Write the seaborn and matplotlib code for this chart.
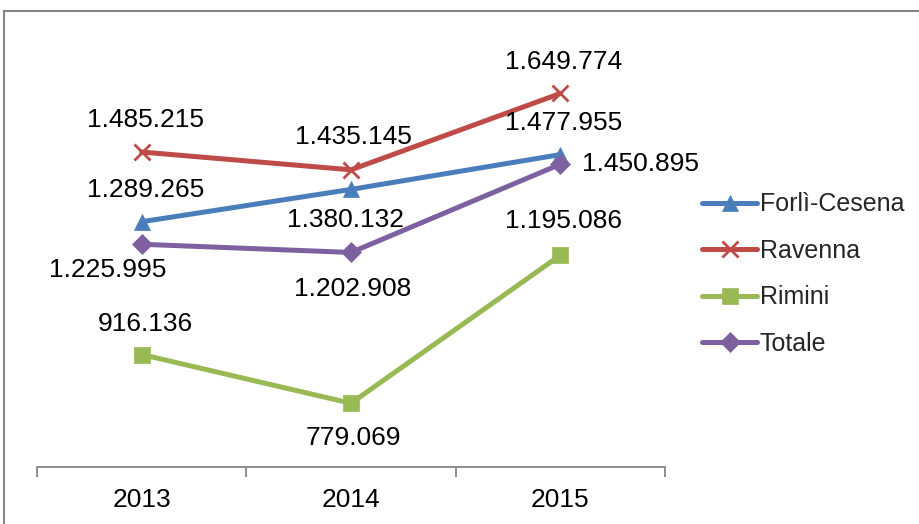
import matplotlib
matplotlib.use("Agg")
import matplotlib.pyplot as plt
import seaborn as sns
import pandas as pd
from matplotlib.patches import Rectangle

anni = ["2013", "2014", "2015"]
serie = ["Forlì-Cesena", "Ravenna", "Rimini", "Totale"]
forli_cesena = [1289265, 1380132, 1477955]
ravenna = [1485215, 1435145, 1649774]
rimini = [916136, 779069, 1195086]
totale = [1225995, 1202908, 1450895]

colori = ["#4A7EBB", "#BE4B48", "#98B954", "#7D60A0"]
marcatori = ["^", "x", "s", "D"]
dim_marcatori = [12, 11, 11, 10]

# label offsets (pixels) relative to each point
offset_etichette = {
    "Forlì-Cesena": [(4, 32), (-5, -31), (3, 32)],
    "Ravenna": [(4, 32), (2, 33), (3, 31)],
    "Rimini": [(4, 31), (2, -35), (3, 34)],
    "Totale": [(-34, -26), (2, -37), (80, 0)],
}

valori = [forli_cesena, ravenna, rimini, totale]
df = pd.DataFrame({
    "anno": anni * len(serie),
    "pos": list(range(len(anni))) * len(serie),
    "serie": [s for s in serie for _ in anni],
    "valore": [v for vals in valori for v in vals],
})

sns.set_style("white")
plt.rcParams["font.family"] = ["Liberation Sans", "DejaVu Sans"]

FS = 19

fig = plt.figure(figsize=(9.2, 5.24), dpi=100)
ax = fig.add_axes([37 / 920, 1 - 467 / 524, (665 - 37) / 920, (467 - 40) / 524])

for nome, col, mk, ms in zip(serie, colori, marcatori, dim_marcatori):
    sub = df[df["serie"] == nome]
    sns.lineplot(data=sub, x="pos", y="valore", ax=ax, color=col, marker=mk,
                 markersize=ms, markeredgecolor=col, markerfacecolor=col,
                 markeredgewidth=2 if mk == "x" else 0.5,
                 linewidth=3.6, label=nome, solid_capstyle="round")
    for (x, y), off in zip(zip(sub["pos"], sub["valore"]), offset_etichette[nome]):
        testo = f"{y:,}".replace(",", ".")
        ax.annotate(testo, (x, y), xytext=off, textcoords="offset pixels",
                    ha="center", va="center", fontsize=FS, color="black")

ax.set_xlim(-0.5, 2.5)
ax.set_ylim(600000, 1800000)
ax.set_xticks([-0.5, 0.5, 1.5, 2.5])
ax.set_xticklabels([])
ax.set_xticks([0, 1, 2], minor=True)
ax.set_xticklabels(anni, minor=True)
ax.tick_params(axis="x", which="major", bottom=True, length=7, width=1.3,
               color="#868686", direction="out")
ax.tick_params(axis="x", which="minor", bottom=True, length=0, pad=15,
               labelsize=FS, labelcolor="black")
ax.set_yticks([])
ax.set_xlabel("")
ax.set_ylabel("")
for s in ["top", "right", "left"]:
    ax.spines[s].set_visible(False)
ax.spines["bottom"].set_color("#868686")
ax.spines["bottom"].set_linewidth(1.3)

leg = ax.legend(loc="center left", bbox_to_anchor=(702 / 920, 1 - 274 / 524),
                bbox_transform=fig.transFigure, frameon=False, fontsize=18,
                handlelength=2.2, handletextpad=0.12, labelspacing=0.9,
                borderaxespad=0, borderpad=0)

fig.patches.append(Rectangle((4 / 920, -0.05), 1.2, 1 - 11 / 524 + 0.05,
                             transform=fig.transFigure, fill=False,
                             edgecolor="#868686", linewidth=1.5))

fig.savefig("out.png", dpi=100)
